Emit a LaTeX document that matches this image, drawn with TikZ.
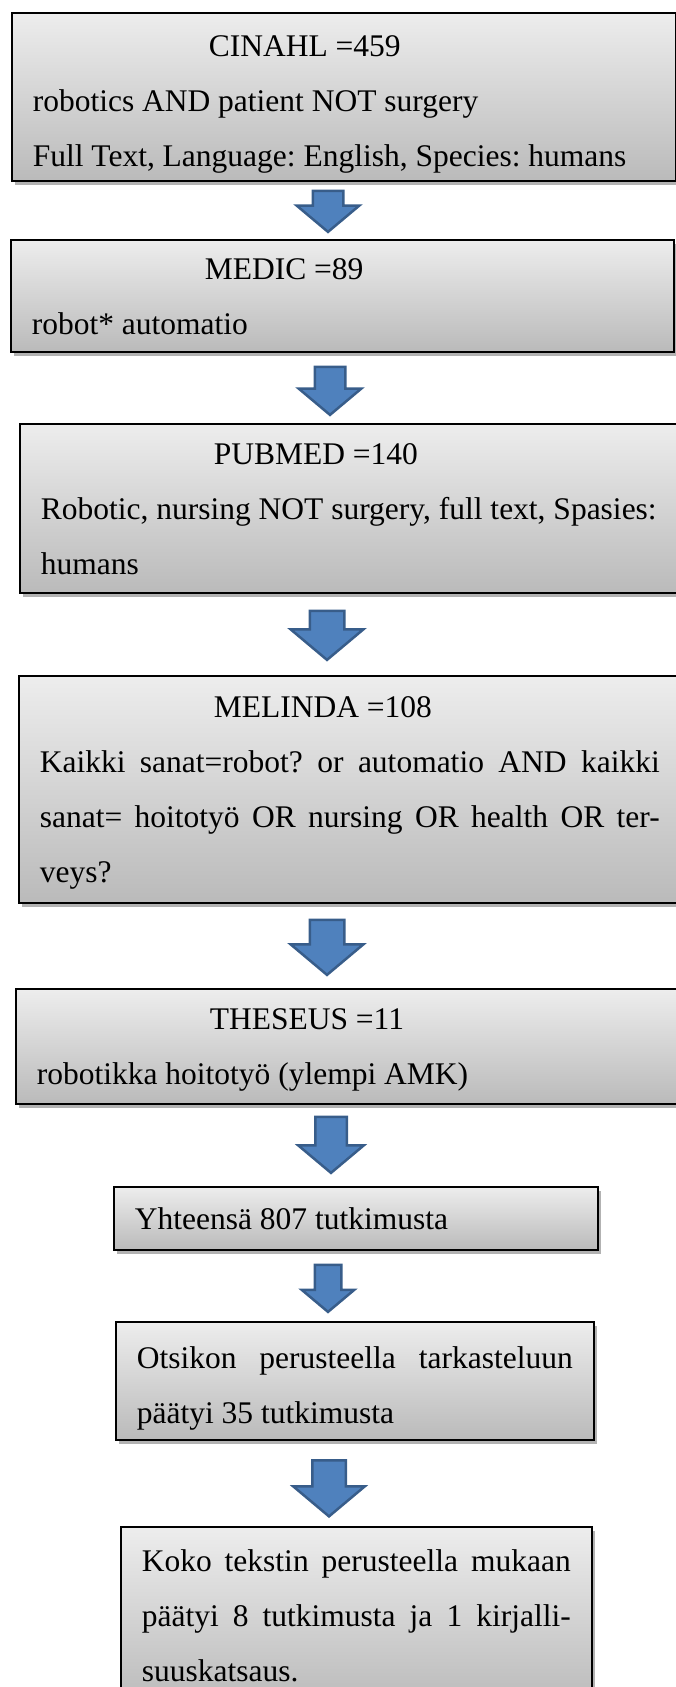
\documentclass[tikz,border=0pt]{standalone}
\usepackage{fontspec}
\setmainfont{Liberation Serif}
\usetikzlibrary{shapes.arrows,shadows}
\definecolor{arrowfill}{HTML}{4F81BD}
\definecolor{arrowline}{HTML}{385D8A}
\newcommand{\lowstrut}{\rule[-9pt]{0pt}{9pt}}

\begin{document}
\begin{tikzpicture}[x=1pt,y=-1pt,
	search box/.style={rectangle,draw=black,line width=1.6pt,top color=black!7,bottom color=black!27,
		drop shadow={shadow xshift=3pt,shadow yshift=-4pt,fill=black,opacity=.3},
		anchor=north west,inner xsep=21pt,inner ysep=0pt,align=justify,
		font={\fontsize{31.5}{55}\selectfont\parindent=0pt\frenchspacing}},
	down arrow/.style={single arrow,rotate=-90,anchor=tip,draw=arrowline,fill=arrowfill,line width=2.5pt,
		inner xsep=0pt,single arrow tip angle=100}
]
	\useasboundingbox (0,0) rectangle (676,1687);
	\clip (0,0) rectangle (676,1687);

	\node[search box,minimum width=664pt,minimum height=168pt,text width=622pt] (cinahl) at (11,12)
		{\strut\hspace*{176pt}CINAHL =459\\robotics AND patient NOT surgery\\Full Text, Language: English, Species: humans\lowstrut};
	\node[search box,minimum width=663pt,minimum height=112pt,text width=621pt] (medic) at (10,239)
		{\strut\hspace*{173pt}MEDIC =89\\robot* automatio\strut};
	\node[search box,minimum width=661pt,minimum height=169pt,text width=619pt] (pubmed) at (19,423)
		{\strut\hspace*{173pt}PUBMED =140\\Robotic, nursing NOT surgery, full text, Spasies:\\humans\strut};
	\node[search box,minimum width=662pt,minimum height=227pt,text width=620pt] (melinda) at (18,675)
		{\strut\hspace*{174pt}MELINDA =108\\Kaikki sanat=robot? or automatio AND kaikki\linebreak sanat= hoitotyö OR nursing OR health OR ter-\linebreak veys?\strut};
	\node[search box,minimum width=665pt,minimum height=115pt,text width=623pt] (theseus) at (15,988)
		{\strut\hspace*{173pt}THESEUS =11\\robotikka hoitotyö (ylempi AMK)\strut};
	\node[search box,minimum width=484pt,minimum height=63pt,text width=442pt] (total) at (113,1186)
		{\strut Yhteensä 807 tutkimusta\strut};
	\node[search box,minimum width=478pt,minimum height=118pt,text width=436pt] (bytitle) at (115,1321)
		{\strut Otsikon perusteella tarkasteluun\linebreak päätyi 35 tutkimusta\lowstrut};
	\node[search box,minimum width=471pt,minimum height=178pt,text width=429pt] (bytext) at (120,1526)
		{\strut Koko tekstin perusteella mukaan\linebreak päätyi 8 tutkimusta ja 1 kirjalli-\linebreak suuskatsaus.\strut};

	% block arrows between the boxes, placed by their tips
	\node[down arrow,minimum height=41pt,inner ysep=14pt,single arrow head extend=16pt] (a1) at (328,233.5) {};
	\node[down arrow,minimum height=48pt,inner ysep=14pt,single arrow head extend=16pt] (a2) at (330,416.5) {};
	\node[down arrow,minimum height=49pt,inner ysep=16pt,single arrow head extend=19pt] (a3) at (327,661.5) {};
	\node[down arrow,minimum height=55pt,inner ysep=16pt,single arrow head extend=19pt] (a4) at (327,976.5) {};
	\node[down arrow,minimum height=56pt,inner ysep=14.5pt,single arrow head extend=17pt] (a5) at (331,1174.5) {};
	\node[down arrow,minimum height=47pt,inner ysep=12pt,single arrow head extend=13pt] (a6) at (328,1313.5) {};
	\node[down arrow,minimum height=56pt,inner ysep=15.5pt,single arrow head extend=19pt] (a7) at (329,1518) {};
\end{tikzpicture}
\end{document}
